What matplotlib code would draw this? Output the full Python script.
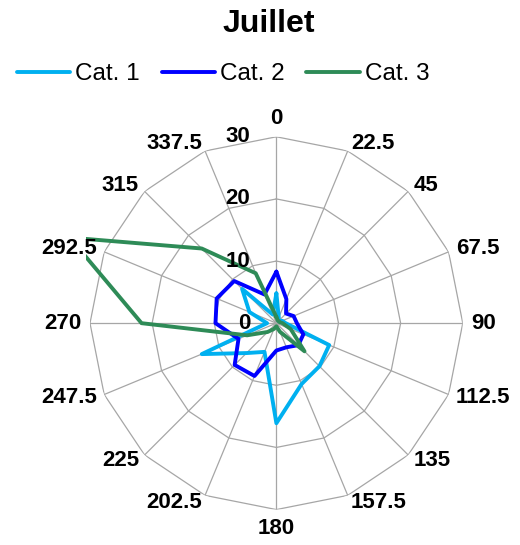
import numpy as np
import matplotlib
matplotlib.use("Agg")
import matplotlib.pyplot as plt
from matplotlib.patches import Rectangle

plt.rcParams['font.family'] = ['Liberation Sans', 'DejaVu Sans']

# -------------------------------
# Data: 16 directions (degrees), three categories
# -------------------------------
directions = [0, 22.5, 45, 67.5, 90, 112.5, 135, 157.5,
              180, 202.5, 225, 247.5, 270, 292.5, 315, 337.5]
direction_labels = ["0", "22.5", "45", "67.5", "90", "112.5", "135", "157.5",
                    "180", "202.5", "225", "247.5", "270", "292.5", "315", "337.5"]

cat1 = [4.8, 1.0, 0.5, 1.0, 1.5, 9.2, 9.8, 10.6,
        16.1, 5.0, 6.8, 13.0, 1.5, 4.7, 7.8, 1.5]
cat2 = [8.3, 4.2, 2.2, 3.0, 3.3, 4.7, 5.0, 4.2,
        4.4, 9.2, 9.5, 6.6, 9.8, 10.4, 9.6, 5.0]
cat3 = [1.0, 0.5, 0.5, 0.5, 1.0, 2.5, 6.4, 1.5,
        0.5, 1.0, 2.0, 5.1, 21.7, 36.0, 17.0, 8.7]

series_names = ["Cat. 1", "Cat. 2", "Cat. 3"]
series_colors = ["#00b0f0", "#0000ff", "#2e8b57"]

radial_ticks = [0, 10, 20, 30]

# -------------------------------
# Figure / polar axes
# -------------------------------
fig = plt.figure(figsize=(5.2, 5.45), dpi=100)
ax = fig.add_axes([0.173, 0.065, 0.717, 0.684], projection='polar')
ax.set_theta_zero_location('N')
ax.set_theta_direction(-1)
ax.set_ylim(0, radial_ticks[-1])
ax.grid(False)
ax.spines['polar'].set_visible(False)
ax.set_xticks([])
ax.set_yticks([])

theta = np.deg2rad(directions)
theta_closed = np.append(theta, theta[0])

# polygon gridlines + spokes
grid_color = '#a6a6a6'
for r in radial_ticks[1:]:
    ax.plot(theta_closed, [r] * len(theta_closed), color=grid_color, lw=0.9, zorder=1)
for t in theta:
    ax.plot([t, t], [0, radial_ticks[-1]], color=grid_color, lw=0.9, zorder=1)

# plot area clip (lines may run past the outer ring)
clip_box = Rectangle((-0.012, -0.012), 1.024, 1.024, transform=ax.transAxes)

for vals, name, col in zip([cat1, cat2, cat3], series_names, series_colors):
    v = np.append(vals, vals[0])
    line, = ax.plot(theta_closed, v, color=col, lw=2.8, label=name,
                    solid_joinstyle='round', solid_capstyle='round', zorder=3)
    line.set_clip_path(clip_box)

# direction labels around the outer ring
for t, lab in zip(theta, direction_labels):
    s, c = np.sin(t), np.cos(t)
    if s > 0.1:
        ha = 'left'
    elif s < -0.1:
        ha = 'right'
    else:
        ha = 'center'
    if c > 0.95:
        va = 'bottom'
    elif c < -0.95:
        va = 'top'
    else:
        va = 'center'
    ax.annotate(lab, xy=(t, radial_ticks[-1]), xytext=(8 * s, 8 * c),
                textcoords='offset pixels', ha=ha, va=va,
                fontsize=16, fontweight='bold', annotation_clip=False)

# radial value labels along the 0 axis
for r in radial_ticks:
    ax.annotate(str(r), xy=(0, r), xytext=(-26, 0), textcoords='offset pixels',
                ha='right', va='center', fontsize=16, fontweight='bold',
                annotation_clip=False, zorder=4)

# title and legend
fig.text(269 / 520, 1 - 24 / 545, "Juillet", ha='center', va='center',
         fontsize=23, fontweight='bold')
fig.legend(loc='center', bbox_to_anchor=(223 / 520, 1 - 74 / 545), ncol=3,
           frameon=False, fontsize=17.5, handlelength=2.2, handletextpad=0.2,
           columnspacing=0.9, borderpad=0)

fig.savefig("out.png", dpi=100)
